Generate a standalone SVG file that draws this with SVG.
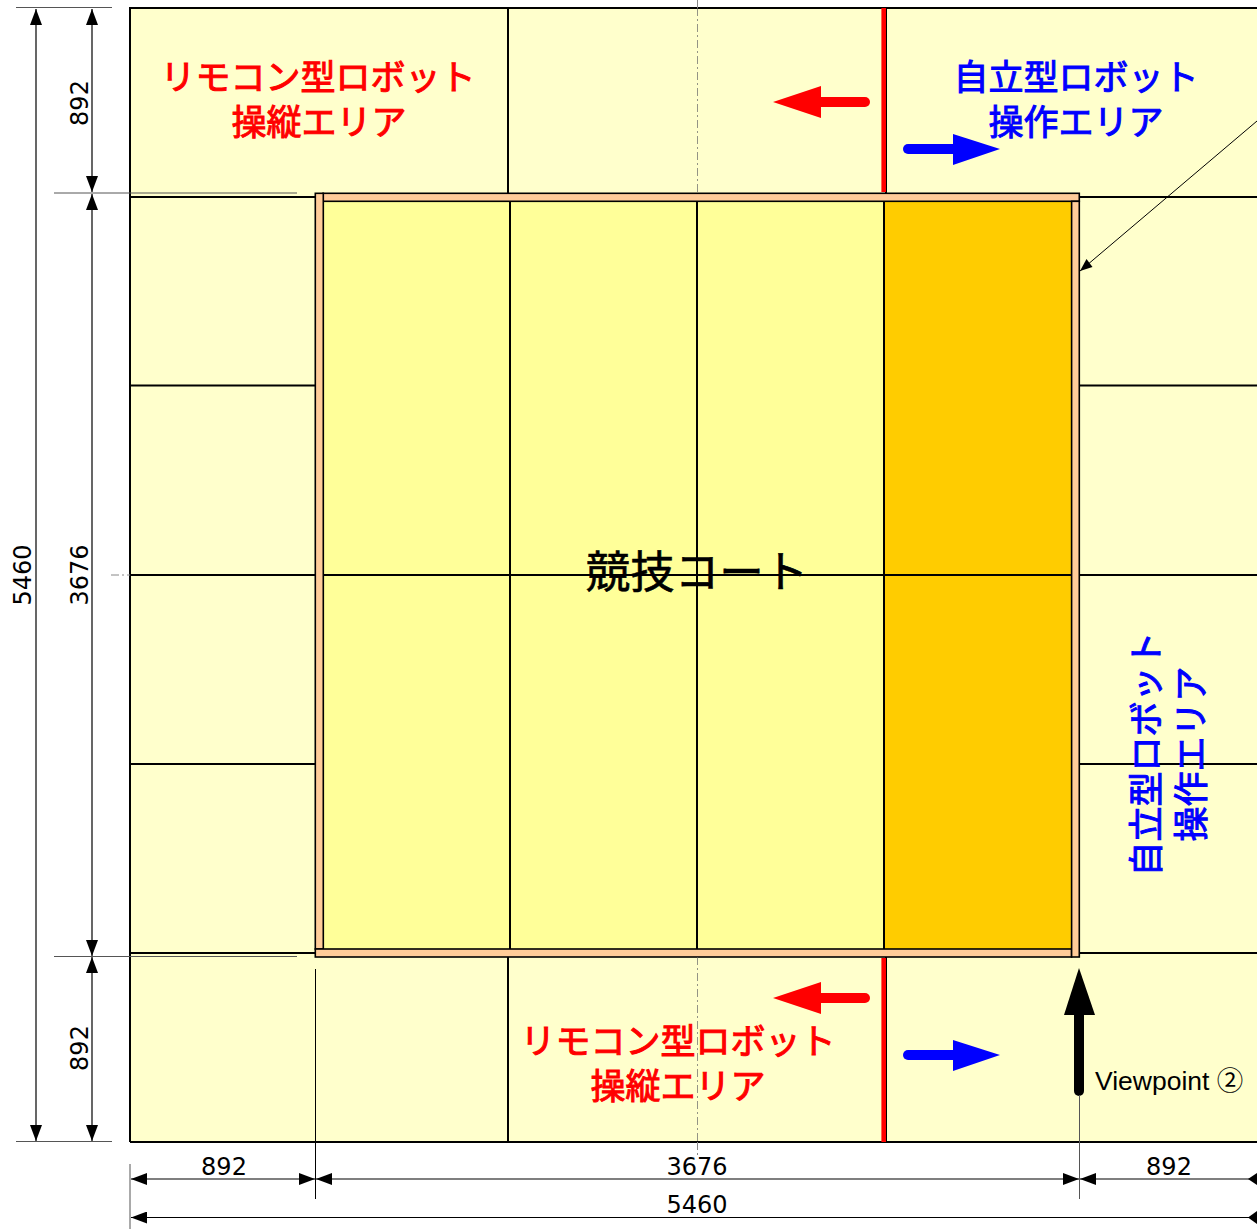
<svg xmlns="http://www.w3.org/2000/svg" width="1257" height="1229" viewBox="0 0 1257 1229">
<style>
.a{fill:#ffffcc;stroke:none}
.g{stroke:#000;stroke-width:2;fill:none}
.d{stroke:#000;stroke-width:1.2;fill:none}
.x{stroke:#555;stroke-width:1;fill:none}
.w{fill:#ffcc99;stroke:#000;stroke-width:1.600}
.t{font-family:"DejaVu Sans","Noto Sans CJK JP",sans-serif;fill:#000}
.n{font-size:24px;text-anchor:middle}
.j{font-family:"Noto Sans CJK JP","DejaVu Sans",sans-serif;font-size:35px;text-anchor:middle;stroke-width:1px}
.r{fill:#ff0000}.b{fill:#0000ff}
.j.r{stroke:#ff0000}.j.b{stroke:#0000ff}
</style>
<defs>
<marker id="ae" markerUnits="userSpaceOnUse" markerWidth="16" markerHeight="12" refX="16" refY="6" orient="auto"><path d="M0 0L16 6L0 12Z" fill="#000"/></marker>
<marker id="as" markerUnits="userSpaceOnUse" markerWidth="16" markerHeight="12" refX="0" refY="6" orient="auto"><path d="M16 0L0 6L16 12Z" fill="#000"/></marker>
</defs>
<rect id="field" class="a" x="130" y="8" width="1127" height="1134"/>
<g id="court">
<rect x="323" y="201" width="561" height="748" fill="#ffff99"/>
<rect x="884" y="201" width="188" height="748" fill="#ffcc00"/>
</g>
<g id="grid">
<path class="g" d="M130 1142V8H1257M130 1142H1257"/>
<path class="g" d="M508 8V193M508 957V1142M886 8V193M886 957V1142"/>
<path class="g" d="M130 197H316M130 385.500H316M130 764H316M130 953H316M1079 197H1257M1079 385.500H1257M1079 575H1257M1079 764H1257M1079 953H1257"/>
<path class="g" d="M130 575H1079"/>
<path class="g" d="M510 201V949M697 201V949M884 201V949"/>
</g>
<g id="frame">
<rect class="w" x="323" y="193.300" width="756.300" height="8"/>
<rect class="w" x="315.300" y="193.300" width="8" height="755.700"/>
<rect class="w" x="315.300" y="949" width="756.300" height="8"/>
<rect class="w" x="1071.600" y="201.300" width="7.700" height="755.700"/>
</g>
<g id="connectors">
<path d="M883.700 8V192M883.700 958V1142" stroke="#ff0000" stroke-width="4.600" fill="none"/>
<path d="M865 102H815" stroke="#ff0000" stroke-width="10" stroke-linecap="round"/>
<path class="r" d="M773 102L821 86V118Z"/>
<path d="M908 149H955" stroke="#0000ff" stroke-width="10" stroke-linecap="round"/>
<path class="b" d="M1000 149L953 134V165Z"/>
<path d="M865 998H815" stroke="#ff0000" stroke-width="10" stroke-linecap="round"/>
<path class="r" d="M773 998L821 982V1014Z"/>
<path d="M908 1055H955" stroke="#0000ff" stroke-width="10" stroke-linecap="round"/>
<path class="b" d="M1000 1055L953 1040V1071Z"/>
<path d="M1079 1091V1010" stroke="#000" stroke-width="10" stroke-linecap="round"/>
<path d="M1079 968L1095 1015H1064Z" fill="#000"/>
<path d="M1257 121L1080 271" stroke="#000" stroke-width="1"/>
<path d="M1080 271L1086.500 259L1092.500 267Z" fill="#000"/>
<path class="x" d="M16 7.500H112M54 193H297M54 956.500H297M16 1141.500H112M130 1164V1229M1079.500 1095V1199"/>
<path d="M315.500 969V1199" stroke="#000" stroke-width="1"/>
<path class="d" d="M36 9V1141" marker-start="url(#as)" marker-end="url(#ae)"/>
<path class="d" d="M92 9V192" marker-start="url(#as)" marker-end="url(#ae)"/>
<path class="d" d="M92 194V956" marker-start="url(#as)" marker-end="url(#ae)"/>
<path class="d" d="M92 957V1141" marker-start="url(#as)" marker-end="url(#ae)"/>
<path class="d" d="M131 1179H315" marker-start="url(#as)" marker-end="url(#ae)"/>
<path class="d" d="M316 1179H1079" marker-start="url(#as)" marker-end="url(#ae)"/>
<path class="d" d="M1080 1179H1257" marker-start="url(#as)"/>
<path d="M1257 1173V1185L1248 1179Z" fill="#000"/>
<path class="d" d="M131 1217.500H1257" marker-start="url(#as)"/>
<path d="M1257 1211V1224L1248 1217.500Z" fill="#000"/>
<path d="M697.500 0V8M697.500 1142V1155M111 575H130" stroke="#888" stroke-width="1" stroke-dasharray="8 3 2 3" fill="none"/>
<path d="M697.500 8V193M697.500 957V1142" stroke="#666" stroke-width="0.700" stroke-dasharray="8 3 2 3" fill="none"/>
</g>
<g id="labels">
<text class="t n" x="224" y="1175">892</text>
<text class="t n" x="697" y="1175">3676</text>
<text class="t n" x="1169" y="1175">892</text>
<text class="t n" x="697" y="1213">5460</text>
<text class="t n" transform="translate(88 103) rotate(-90)">892</text>
<text class="t n" transform="translate(88 575) rotate(-90)">3676</text>
<text class="t n" transform="translate(88 1048) rotate(-90)">892</text>
<text class="t n" transform="translate(31 575) rotate(-90)">5460</text>
<text x="1095" y="1090" font-family="Liberation Sans,Noto Sans CJK JP,sans-serif" font-size="26.500" fill="#000">Viewpoint ②</text>
<text class="j" x="697" y="588" style="font-size:44.500px;stroke:#000;stroke-width:0.600px">競技コート</text>
<text class="j r" x="318" y="90">リモコン型ロボット</text>
<text class="j r" x="319" y="135">操縦エリア</text>
<text class="j r" x="678" y="1054">リモコン型ロボット</text>
<text class="j r" x="678" y="1099">操縦エリア</text>
<text class="j b" x="1076" y="90">自立型ロボット</text>
<text class="j b" x="1076" y="135">操作エリア</text>
<text class="j b" transform="translate(1159 754) rotate(-90)">自立型ロボット</text>
<text class="j b" transform="translate(1204 754) rotate(-90)">操作エリア</text>
</g>
</svg>
